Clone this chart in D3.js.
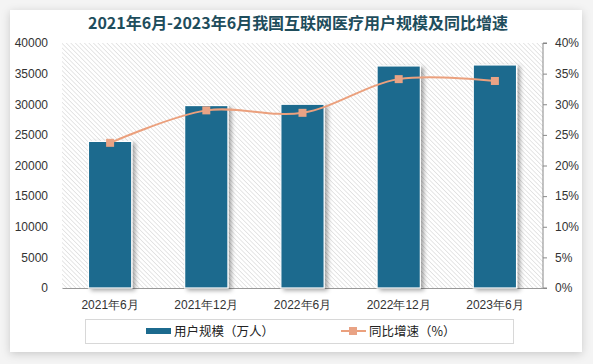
<html lang="zh">
<head>
  <meta charset="UTF-8" />
  <title>互联网医疗用户规模</title>
  <style>
    body { margin: 0; background: #f4f4f4; }
    svg { display: block; font-family: "Noto Sans CJK SC", "Noto Sans", sans-serif; }
    .tick text { font-size: 12px; fill: #333; }
  </style>
</head>
<body>
  <svg width="593" height="364"></svg>

  <script src="https://d3js.org/d3.v7.min.js"></script>
  <script>
    const categories = ["2021年6月", "2021年12月", "2022年6月", "2022年12月", "2023年6月"];
    const users = [23933, 29788, 30000, 36254, 36416];
    const growth = [23.7, 29.0, 28.6, 34.1, 33.8];
    const leftTicks = [0, 5000, 10000, 15000, 20000, 25000, 30000, 35000, 40000];
    const rightTicks = [0, 5, 10, 15, 20, 25, 30, 35, 40];

    const svg = d3.select("svg");
    const defs = svg.append("defs");

    // diagonal hatch of the plot background
    const pat = defs.append("pattern")
      .attr("id", "hatch")
      .attr("patternUnits", "userSpaceOnUse")
      .attr("width", 3.2).attr("height", 3.2)
      .attr("patternTransform", "rotate(-45)");
    pat.append("rect").attr("width", 3.2).attr("height", 3.2).attr("fill", "#fff");
    pat.append("line").attr("x1", 0).attr("y1", 0).attr("x2", 0).attr("y2", 3.2)
      .attr("stroke", "#d9d9d9").attr("stroke-width", 1.3);

    const sh = defs.append("filter").attr("id", "shadow")
      .attr("x", "-20%").attr("y", "-20%").attr("width", "140%").attr("height", "140%");
    sh.append("feDropShadow").attr("dx", 3).attr("dy", 2).attr("stdDeviation", 2)
      .attr("flood-color", "#000").attr("flood-opacity", 0.35);

    const boxSh = defs.append("filter").attr("id", "boxshadow")
      .attr("x", "-5%").attr("y", "-5%").attr("width", "110%").attr("height", "110%");
    boxSh.append("feDropShadow").attr("dx", 0).attr("dy", 2).attr("stdDeviation", 4)
      .attr("flood-color", "#000").attr("flood-opacity", 0.18);

    // card
    svg.append("rect").attr("x", 10).attr("y", 10).attr("width", 572).attr("height", 342)
      .attr("fill", "#fff").attr("filter", "url(#boxshadow)");

    const margin = { left: 62, right: 50, top: 43, bottom: 76 };
    const W = 593, H = 364;

    const x = d3.scaleBand().domain(categories)
      .range([margin.left, W - margin.right]).paddingInner(0.55).paddingOuter(0.275);
    const y = d3.scaleLinear().domain([0, 40000]).range([H - margin.bottom, margin.top]);
    const y2 = d3.scaleLinear().domain([0, 40]).range([H - margin.bottom, margin.top]);

    svg.append("rect")
      .attr("x", margin.left).attr("y", margin.top)
      .attr("width", W - margin.left - margin.right)
      .attr("height", H - margin.top - margin.bottom)
      .attr("fill", "url(#hatch)");

    // title
    svg.append("text")
      .attr("x", 298).attr("y", 29)
      .attr("text-anchor", "middle")
      .attr("font-size", 16).attr("font-weight", "bold")
      .attr("fill", "#1e4d5c")
      .attr("textLength", 420)
      .text("2021年6月-2023年6月我国互联网医疗用户规模及同比增速");

    // left axis
    const gl = svg.append("g")
      .attr("transform", `translate(${margin.left},0)`)
      .call(d3.axisLeft(y).tickValues(leftTicks).tickSize(0).tickPadding(14)
        .tickFormat(d3.format("d")));
    gl.select(".domain").remove();

    // right axis
    const gr = svg.append("g")
      .attr("transform", `translate(${W - margin.right},0)`)
      .call(d3.axisRight(y2).tickValues(rightTicks).tickSize(4).tickPadding(8)
        .tickFormat(d => d + "%"));
    gr.selectAll("line, .domain").attr("stroke", "#888");
    gr.select(".domain").attr("d", `M4,${y2(40)}H0V${y2(0)}H4`);

    // bottom axis
    const gb = svg.append("g")
      .attr("transform", `translate(0,${H - margin.bottom})`)
      .call(d3.axisBottom(x).tickSize(0).tickPadding(12));
    gb.select(".domain").attr("stroke", "#999");

    // bars
    svg.append("g").selectAll("rect")
      .data(users)
      .join("rect")
      .attr("x", (d, i) => x(categories[i]))
      .attr("y", d => y(d))
      .attr("width", x.bandwidth())
      .attr("height", d => y(0) - y(d))
      .attr("fill", "#1c6a8e")
      .attr("stroke", "#fff")
      .attr("stroke-width", 1.2)
      .attr("filter", "url(#shadow)");

    // line
    const cx = i => x(categories[i]) + x.bandwidth() / 2;
    const line = d3.line()
      .x((d, i) => cx(i))
      .y(d => y2(d))
      .curve(d3.curveCatmullRom.alpha(0.5));

    svg.append("path")
      .datum(growth)
      .attr("d", line)
      .attr("fill", "none")
      .attr("stroke", "#eba07d")
      .attr("stroke-width", 2);

    svg.append("g").selectAll("rect")
      .data(growth)
      .join("rect")
      .attr("x", (d, i) => cx(i) - 4)
      .attr("y", d => y2(d) - 4)
      .attr("width", 8).attr("height", 8)
      .attr("fill", "#e9a385");

    // legend
    const lg = svg.append("g");
    lg.append("rect").attr("x", 85.5).attr("y", 319.5).attr("width", 428).attr("height", 24)
      .attr("fill", "#fff").attr("stroke", "#d8d8d8");
    lg.append("rect").attr("x", 146).attr("y", 328).attr("width", 25).attr("height", 6)
      .attr("fill", "#1c6a8e");
    lg.append("text").attr("x", 174).attr("y", 336).attr("font-size", 12.5).attr("fill", "#222")
      .text("用户规模（万人）");
    lg.append("line").attr("x1", 341).attr("x2", 366).attr("y1", 331).attr("y2", 331)
      .attr("stroke", "#eba07d").attr("stroke-width", 2);
    lg.append("rect").attr("x", 349).attr("y", 327).attr("width", 8).attr("height", 8)
      .attr("fill", "#e9a385");
    lg.append("text").attr("x", 369).attr("y", 336).attr("font-size", 12.5).attr("fill", "#222")
      .text("同比增速（%）");
  </script>
</body>
</html>
